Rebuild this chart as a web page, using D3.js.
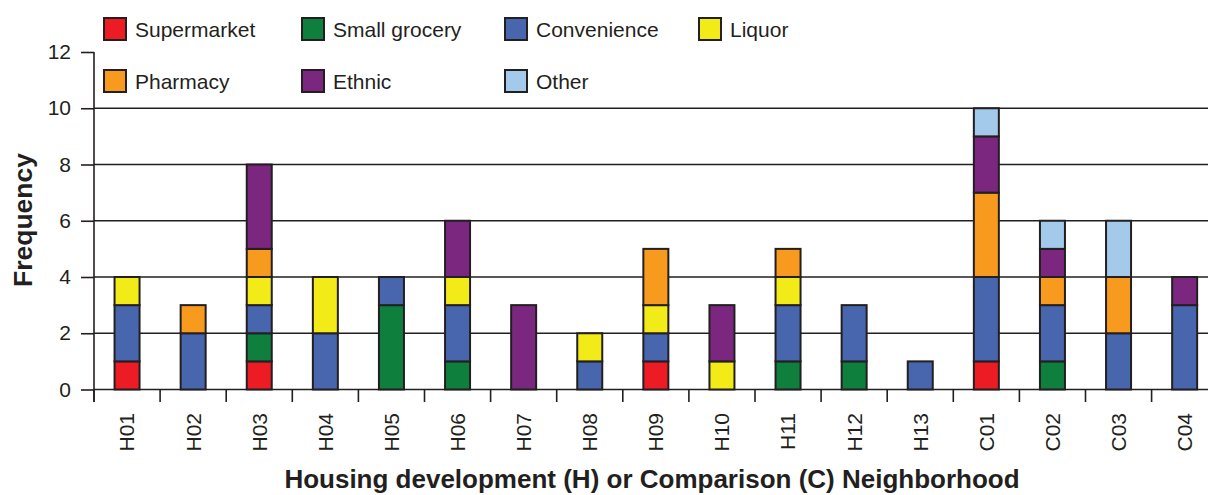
<!DOCTYPE html>
<html>
<head>
<meta charset="utf-8">
<script src="https://cdn.jsdelivr.net/npm/d3@7"></script>
<style>
  html, body { margin: 0; padding: 0; background: #fff; }
  svg { display: block; }
  text { font-family: "Liberation Sans", Arial, sans-serif; fill: #231f20; }
</style>
</head>
<body>
<svg id="chart" width="1208" height="495"></svg>
<script>
const categories = ["H01","H02","H03","H04","H05","H06","H07","H08","H09","H10","H11","H12","H13","C01","C02","C03","C04"];
const seriesNames = ["Supermarket","Small grocery","Convenience","Liquor","Pharmacy","Ethnic","Other"];
const seriesColors = ["#ed1c24","#0f7f3e","#4866ae","#f2eb18","#f79a1e","#7b2780","#a3c9eb"];
const supermarket  = [1,0,1,0,0,0,0,0,1,0,0,0,0,1,0,0,0];
const smallGrocery = [0,0,1,0,3,1,0,0,0,0,1,1,0,0,1,0,0];
const convenience  = [2,2,1,2,1,2,0,1,1,0,2,2,1,3,2,2,3];
const liquor       = [1,0,1,2,0,1,0,1,1,1,1,0,0,0,0,0,0];
const pharmacy     = [0,1,1,0,0,0,0,0,2,0,1,0,0,3,1,2,0];
const ethnic       = [0,0,3,0,0,2,3,0,0,2,0,0,0,2,1,0,1];
const other        = [0,0,0,0,0,0,0,0,0,0,0,0,0,1,1,2,0];
const yTicks = [0,2,4,6,8,10,12];
const xTitle = "Housing development (H) or Comparison (C) Neighborhood";
const yTitle = "Frequency";

const seriesValues = [supermarket, smallGrocery, convenience, liquor, pharmacy, ethnic, other];
const table = categories.map((c, i) => {
  const row = { cat: c };
  seriesNames.forEach((s, j) => row[s] = seriesValues[j][i]);
  return row;
});

const svg = d3.select("#chart");
const ink = "#231f20";
const x0 = 94, step = 66.1;
const x = d3.scaleBand().domain(categories).range([x0, x0 + step * categories.length]).padding(0);
const y = d3.scaleLinear().domain([0, 12]).range([389.5, 52]);
const color = d3.scaleOrdinal().domain(seriesNames).range(seriesColors);

// gridlines
svg.append("g").selectAll("line").data(yTicks.filter(t => t > 0 && t < 12)).join("line")
  .attr("x1", x0).attr("x2", 1208)
  .attr("y1", d => y(d)).attr("y2", d => y(d))
  .attr("stroke", ink).attr("stroke-width", 1.6);

// y axis
const yAxis = svg.append("g").attr("transform", `translate(${x0},0)`)
  .call(d3.axisLeft(y).tickValues(yTicks).tickSize(13).tickPadding(10).tickFormat(d3.format("d")));
yAxis.select(".domain").remove();
yAxis.selectAll(".tick line").attr("stroke", ink).attr("stroke-width", 1.6);
yAxis.selectAll(".tick text").attr("font-size", 21).attr("fill", ink)
  .style("font-family", "'Liberation Sans', Arial, sans-serif");
svg.append("line").attr("x1", x0).attr("x2", x0).attr("y1", y(12)).attr("y2", 402)
  .attr("stroke", ink).attr("stroke-width", 1.6);

// x axis
svg.append("line").attr("x1", x0).attr("x2", 1208).attr("y1", y(0)).attr("y2", y(0))
  .attr("stroke", ink).attr("stroke-width", 1.6);
const boundaries = categories.map(c => x(c)).concat([x(categories[categories.length-1]) + x.bandwidth()]);
svg.append("g").selectAll("line").data(boundaries.filter(b => b < 1208)).join("line")
  .attr("x1", d => d).attr("x2", d => d).attr("y1", y(0)).attr("y2", 402)
  .attr("stroke", ink).attr("stroke-width", 1.6);
svg.append("g").selectAll("text").data(categories).join("text")
  .attr("transform", d => `translate(${x(d) + x.bandwidth()/2},413) rotate(-90)`)
  .attr("text-anchor", "end").attr("dy", "0.35em").attr("font-size", 21)
  .text(d => d);

// bars
const stack = d3.stack().keys(seriesNames)(table);
const bw = 25;
svg.append("g").selectAll("g").data(stack).join("g")
  .attr("fill", d => color(d.key))
  .selectAll("rect").data(d => d.filter(p => p[1] > p[0])).join("rect")
  .attr("x", d => x(d.data.cat) + x.bandwidth()/2 - bw/2)
  .attr("width", bw)
  .attr("y", d => y(d[1]))
  .attr("height", d => y(d[0]) - y(d[1]))
  .attr("stroke", ink).attr("stroke-width", 2);

// legend
const legendPos = [[103,17],[301,17],[504,17],[698,17],[103,69],[301,69],[504,69]];
const lg = svg.append("g").selectAll("g").data(seriesNames).join("g")
  .attr("transform", (d, i) => `translate(${legendPos[i][0]},${legendPos[i][1]})`);
lg.append("rect").attr("x", 1).attr("y", 1).attr("width", 22).attr("height", 22)
  .attr("fill", d => color(d)).attr("stroke", ink).attr("stroke-width", 2);
lg.append("text").attr("x", 32).attr("y", 19.5).attr("font-size", 21).text(d => d);

// titles
svg.append("text").attr("x", 652).attr("y", 488).attr("text-anchor", "middle")
  .attr("font-size", 26).attr("font-weight", "bold").text(xTitle);
svg.append("text").attr("transform", "translate(32,220) rotate(-90)").attr("text-anchor", "middle")
  .attr("font-size", 26.5).attr("font-weight", "bold").text(yTitle);
</script>
</body>
</html>
